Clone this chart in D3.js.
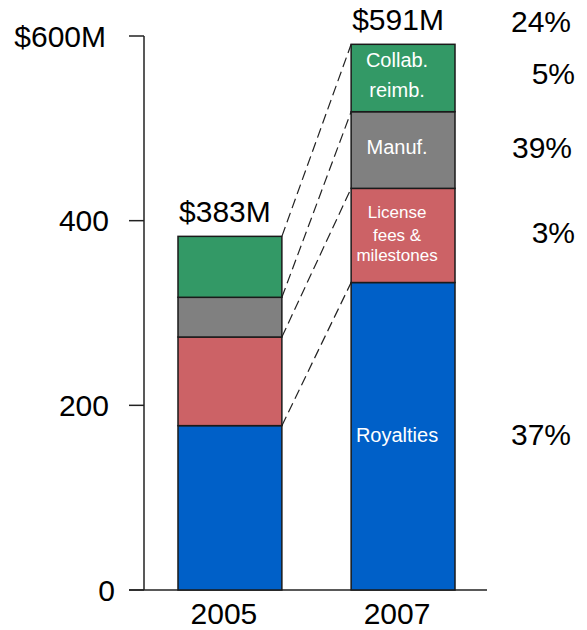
<!DOCTYPE html>
<html>
<head>
<meta charset="utf-8">
<script src="https://cdn.jsdelivr.net/npm/d3@7"></script>
<style>
  html, body { margin: 0; padding: 0; background: #fff; }
  svg { display: block; font-family: "Liberation Sans", Arial, sans-serif; }
</style>
</head>
<body>
<svg id="chart" width="587" height="630"></svg>
<script>
// Revenue mix, $M
const years = ["2005", "2007"];
const segments = ["Royalties", "License fees & milestones", "Manuf.", "Collab. reimb."];
const royalties = [178, 333];
const licenseFees = [96, 102];
const manufacturing = [43, 83];
const collaboration = [66, 73];
const growthLabels = ["37%", "3%", "39%", "5%"]; // per segment, bottom to top
const totalGrowthLabel = "24%";
const yTicks = [0, 200, 400, 600];
const yTickLabels = ["0", "200", "400", "$600M"];

const colors = ["#0060c8", "#cc6266", "#808080", "#339966"];
const insideLabels = [["Royalties"], ["License", "fees &", "milestones"], ["Manuf."], ["Collab.", "reimb."]];

const svg = d3.select("#chart");

const rows = years.map((yr, i) => ({
  year: yr,
  "Royalties": royalties[i],
  "License fees & milestones": licenseFees[i],
  "Manuf.": manufacturing[i],
  "Collab. reimb.": collaboration[i]
}));
const stacked = d3.stack().keys(segments)(rows);
const totals = rows.map(r => segments.reduce((s, k) => s + r[k], 0));

const x = d3.scaleBand().domain(years).range([178, 455]).paddingInner(0.4).paddingOuter(0);
const y = d3.scaleLinear().domain([0, 600]).range([590, 36]);
const bw = x.bandwidth();
const FS = 30;

// axes
const axisColor = "#222";
svg.append("line").attr("x1", 144).attr("x2", 144).attr("y1", y(600)).attr("y2", y(0))
  .attr("stroke", axisColor).attr("stroke-width", 1.5);
svg.append("line").attr("x1", 129).attr("x2", 487).attr("y1", y(0)).attr("y2", y(0))
  .attr("stroke", axisColor).attr("stroke-width", 1.5);
svg.selectAll(".tick").data(yTicks).join("line")
  .attr("x1", 129).attr("x2", 144).attr("y1", d => y(d)).attr("y2", d => y(d))
  .attr("stroke", axisColor).attr("stroke-width", 1.5);
svg.selectAll(".ticklabel").data(yTicks).join("text")
  .attr("x", d => d === 0 ? 115 : d === 600 ? 106 : 109)
  .attr("y", d => y(d)).attr("dy", "0.36em")
  .attr("text-anchor", "end").attr("font-size", FS).attr("fill", "#000")
  .text((d, i) => yTickLabels[i]);

// connectors between segment tops
segments.forEach((k, si) => {
  svg.append("line")
    .attr("x1", x(years[0]) + bw).attr("y1", y(stacked[si][0][1]))
    .attr("x2", x(years[1])).attr("y2", y(stacked[si][1][1]))
    .attr("stroke", "#222").attr("stroke-width", 1.2).attr("stroke-dasharray", "10,5");
});

// stacked bars
stacked.forEach((layer, si) => {
  svg.append("g").selectAll("rect").data(layer).join("rect")
    .attr("x", d => x(d.data.year))
    .attr("y", d => y(d[1]))
    .attr("width", bw)
    .attr("height", d => y(d[0]) - y(d[1]))
    .attr("fill", colors[si])
    .attr("stroke", "#1a1a1a").attr("stroke-width", 1.5);
});

// segment names inside the 2007 bar (baseline offsets from the segment top)
const insideLayout = [
  { size: 20, base: [159] },
  { size: 17, base: [30, 53, 73] },
  { size: 20, base: [42] },
  { size: 20, base: [23, 53] }
];
stacked.forEach((layer, si) => {
  const d = layer[1];
  const top = y(d[1]);
  const cx = x(years[1]) + bw / 2 - 6;
  const t = svg.append("text").attr("text-anchor", "middle").attr("fill", "#fff")
    .attr("font-size", insideLayout[si].size);
  insideLabels[si].forEach((ln, li) => {
    t.append("tspan").attr("x", cx).attr("y", top + insideLayout[si].base[li]).text(ln);
  });
});

// totals above bars
svg.selectAll(".total").data(years).join("text")
  .attr("x", d => x(d) + bw / 2 - 5).attr("y", (d, i) => y(totals[i]) - 14)
  .attr("text-anchor", "middle").attr("font-size", FS).attr("fill", "#000")
  .text((d, i) => `$${totals[i]}M`);

// year labels
svg.selectAll(".year").data(years).join("text")
  .attr("x", d => x(d) + bw / 2 - 6).attr("y", 624)
  .attr("text-anchor", "middle").attr("font-size", FS).attr("fill", "#000")
  .text(d => d);

// growth percentages on the right
const growthY = [445, 243, 158, 84];
const growthX = [571, 575, 572, 575];
svg.selectAll(".growth").data(growthLabels).join("text")
  .attr("x", (d, i) => growthX[i]).attr("y", (d, i) => growthY[i])
  .attr("text-anchor", "end").attr("font-size", FS).attr("fill", "#000")
  .text(d => d);
svg.append("text").attr("x", 571).attr("y", 32)
  .attr("text-anchor", "end").attr("font-size", FS).attr("fill", "#000")
  .text(totalGrowthLabel);
</script>
</body>
</html>
